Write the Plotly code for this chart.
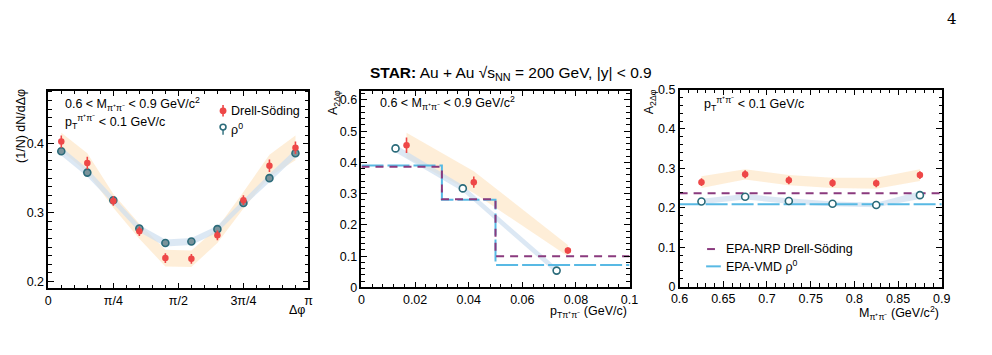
import math
import plotly.graph_objects as go

W, H = 992, 355
PI = math.pi

# ---------------- data ----------------
# Panel 1: (1/N) dN/dDelta-phi vs Delta-phi
dphi = [(i + 0.5) * PI / 10 for i in range(10)]
ds_dphi = [0.403, 0.372, 0.317, 0.273, 0.234, 0.233, 0.267, 0.318, 0.368, 0.394]
ds_dphi_err = [0.009, 0.009, 0.007, 0.007, 0.007, 0.007, 0.007, 0.007, 0.009, 0.009]
ds_dphi_sys = [0.013, 0.014, 0.010, 0.011, 0.012, 0.012, 0.011, 0.012, 0.016, 0.018]
rho_dphi = [0.389, 0.358, 0.318, 0.277, 0.256, 0.258, 0.276, 0.314, 0.350, 0.386]
rho_dphi_err = [0.003, 0.003, 0.003, 0.003, 0.003, 0.003, 0.003, 0.003, 0.003, 0.003]
rho_dphi_sys = [0.006, 0.006, 0.005, 0.005, 0.005, 0.005, 0.005, 0.005, 0.006, 0.006]
dphi_tickvals = [0, PI / 4, PI / 2, 3 * PI / 4, PI]
dphi_ticktext = ["0", "π/4", "π/2", "3π/4", "π"]

# Panel 2: A_2dphi vs pT
pt_ds = [0.0168, 0.0419, 0.0770]
a_pt_ds = [0.455, 0.337, 0.118]
a_pt_ds_err = [0.025, 0.018, 0.010]
a_pt_ds_sys = [0.040, 0.035, 0.018]
pt_rho = [0.0127, 0.0378, 0.0728]
a_pt_rho = [0.445, 0.317, 0.054]
a_pt_rho_err = [0.004, 0.004, 0.004]
a_pt_rho_sys = [0.012, 0.010, 0.010]
pt_edges = [0.0, 0.03, 0.05, 0.1]
epa_nrp_pt = [0.386, 0.282, 0.100]
epa_vmd_pt = [0.390, 0.281, 0.072]

# Panel 3: A_2dphi vs M
mass = [0.625, 0.675, 0.725, 0.775, 0.825, 0.875]
a_m_ds = [0.265, 0.285, 0.270, 0.263, 0.262, 0.283]
a_m_ds_err = [0.010, 0.010, 0.010, 0.010, 0.010, 0.010]
a_m_ds_sys = [0.015, 0.013, 0.013, 0.013, 0.014, 0.015]
a_m_rho = [0.216, 0.228, 0.217, 0.210, 0.207, 0.232]
a_m_rho_err = [0.002, 0.002, 0.002, 0.002, 0.002, 0.002]
a_m_rho_sys = [0.007, 0.007, 0.007, 0.006, 0.006, 0.010]
mass_range = [0.6, 0.9]
epa_nrp_m = 0.237
epa_vmd_m = 0.209

# ---------------- styles ----------------
RED = "#EE4747"
TEAL = "#2B6B7A"
TEALFILL = "#7A939B"
ORANGE_BAND = "rgba(253,226,190,0.6)"
BLUE_BAND = "rgba(205,222,240,0.7)"
PURPLE = "#8A3A7E"
LBLUE = "#58B9E4"
FONT = "Liberation Sans, Arial, sans-serif"
FS = 12.5


def px(x):
    return x / W


def py(y):
    return 1 - y / H


fig = go.Figure()


def band(xs, ys, sys, color, xa, ya):
    up = [y + s for y, s in zip(ys, sys)]
    lo = [y - s for y, s in zip(ys, sys)]
    fig.add_trace(go.Scatter(x=list(xs) + list(xs)[::-1], y=up + lo[::-1],
                             fill="toself", fillcolor=color, mode="lines",
                             line=dict(width=0), hoverinfo="skip",
                             showlegend=False, xaxis=xa, yaxis=ya))


def points(xs, ys, err, xa, ya, kind, filled_rho=True):
    if kind == "ds":
        marker = dict(symbol="circle", size=6.5, color=RED, line=dict(width=0))
        ecol = RED
    else:
        fill = TEALFILL if filled_rho else "white"
        marker = dict(symbol="circle", size=7, color=fill,
                      line=dict(width=1.6, color=TEAL))
        ecol = TEAL
    fig.add_trace(go.Scatter(x=xs, y=ys, mode="markers", marker=marker,
                             error_y=dict(type="data", array=err, color=ecol,
                                          thickness=1.6, width=0),
                             showlegend=False, xaxis=xa, yaxis=ya))


# Panel 1
band(dphi, ds_dphi, ds_dphi_sys, ORANGE_BAND, "x", "y")
band(dphi, rho_dphi, rho_dphi_sys, BLUE_BAND, "x", "y")
points(dphi, rho_dphi, rho_dphi_err, "x", "y", "rho", True)
points(dphi, ds_dphi, ds_dphi_err, "x", "y", "ds")

# Panel 2
band(pt_ds, a_pt_ds, a_pt_ds_sys, ORANGE_BAND, "x2", "y2")
band(pt_rho, a_pt_rho, a_pt_rho_sys, BLUE_BAND, "x2", "y2")
fig.add_trace(go.Scatter(x=pt_edges, y=epa_vmd_pt + [epa_vmd_pt[-1]], mode="lines",
                         line=dict(color=LBLUE, width=2, dash="22px,4px", shape="hv"),
                         showlegend=False, xaxis="x2", yaxis="y2"))
fig.add_trace(go.Scatter(x=pt_edges, y=epa_nrp_pt + [epa_nrp_pt[-1]], mode="lines",
                         line=dict(color=PURPLE, width=2, dash="8px,6px", shape="hv"),
                         showlegend=False, xaxis="x2", yaxis="y2"))
points(pt_rho, a_pt_rho, a_pt_rho_err, "x2", "y2", "rho", False)
points(pt_ds, a_pt_ds, a_pt_ds_err, "x2", "y2", "ds")

# Panel 3
band(mass, a_m_ds, a_m_ds_sys, ORANGE_BAND, "x3", "y3")
band(mass, a_m_rho, a_m_rho_sys, BLUE_BAND, "x3", "y3")
fig.add_trace(go.Scatter(x=mass_range, y=[epa_vmd_m, epa_vmd_m], mode="lines",
                         line=dict(color=LBLUE, width=2, dash="22px,4px"),
                         showlegend=False, xaxis="x3", yaxis="y3"))
fig.add_trace(go.Scatter(x=mass_range, y=[epa_nrp_m, epa_nrp_m], mode="lines",
                         line=dict(color=PURPLE, width=2, dash="8px,6px"),
                         showlegend=False, xaxis="x3", yaxis="y3"))
points(mass, a_m_rho, a_m_rho_err, "x3", "y3", "rho", False)
points(mass, a_m_ds, a_m_ds_err, "x3", "y3", "ds")


def axis(domain, rng, anchor, **kw):
    d = dict(domain=domain, range=rng, anchor=anchor, showgrid=False, zeroline=False,
             showline=True, linecolor="black", linewidth=1.5, mirror="allticks",
             ticks="inside", ticklen=6, tickwidth=1, tickcolor="black",
             tickfont=dict(family=FONT, size=FS, color="black"))
    d.update(kw)
    return d


def minor(dt, t0=0):
    return dict(dtick=dt, tick0=t0, ticks="inside", ticklen=3.5, tickcolor="black",
                tickwidth=1, showgrid=False)


fig.update_layout(
    width=W, height=H, margin=dict(l=0, r=0, t=0, b=0),
    paper_bgcolor="white", plot_bgcolor="white", showlegend=False,
    xaxis=axis([px(40), px(305)], [0, PI], "y", tickmode="array",
               tickvals=dphi_tickvals, ticktext=dphi_ticktext, minor=minor(PI / 20)),
    yaxis=axis([py(293), py(87)], [0.19, 0.477], "x", dtick=0.1, tick0=0,
               minor=minor(0.0125)),
    xaxis2=axis([px(359), px(632)], [0, 0.1], "y2", dtick=0.02, tick0=0,
                minor=minor(0.004)),
    yaxis2=axis([py(292), py(87)], [0, 0.63], "x2", dtick=0.1, tick0=0,
                minor=minor(0.02)),
    xaxis3=axis([px(683), px(950)], [0.6, 0.9], "y3", dtick=0.05, tick0=0.6,
                minor=minor(0.01, 0.6)),
    yaxis3=axis([py(291), py(86)], [0, 0.5], "x3", dtick=0.1, tick0=0,
                minor=minor(0.02)),
)

ann = []


def text(x, y, s, size=FS, xanchor="left", yanchor="middle", angle=0, fam=FONT):
    ann.append(dict(x=px(x), y=py(y), xref="paper", yref="paper", text=s,
                    showarrow=False, xanchor=xanchor, yanchor=yanchor,
                    textangle=angle, font=dict(family=fam, size=size, color="black")))


# titles
text(511, 69, "<b>STAR:</b> Au + Au √s<sub>NN</sub> = 200 GeV, |y| < 0.9", size=15.5,
     xanchor="center")
text(960, 12, "4", size=15, xanchor="center", fam="DejaVu Serif, serif")

# panel 1 texts
text(55, 101, "0.6 < M<sub>π⁺π⁻</sub> < 0.9 GeV/c<sup>2</sup>")
text(55, 120, "p<sub>T</sub><sup>π⁺π⁻</sup> < 0.1 GeV/c")
text(224, 108, "Drell-Söding")
text(224, 127, "ρ<sup>0</sup>")
text(12, 124, "(1/N) dN/dΔφ", xanchor="center", angle=-90)
text(304, 315, "Δφ", xanchor="right")

# panel 2 texts
text(376, 100, "0.6 < M<sub>π⁺π⁻</sub> < 0.9 GeV/c<sup>2</sup>")
text(331, 99, "A<sub>2Δφ</sub>", xanchor="center", angle=-90)
text(631, 318, "p<sub>Tπ⁺π⁻</sub> (GeV/c)", xanchor="right")

# panel 3 texts
text(706, 101, "p<sub>T</sub><sup>π⁺π⁻</sup> < 0.1 GeV/c")
text(653, 99, "A<sub>2Δφ</sub>", xanchor="center", angle=-90)
text(949, 319, "M<sub>π⁺π⁻</sub> (GeV/c<sup>2</sup>)", xanchor="right")
text(728, 252, "EPA-NRP Drell-Söding")
text(728, 270, "EPA-VMD ρ<sup>0</sup>")

fig.update_layout(annotations=ann)

# legend symbols (paper coordinates)
shapes = [
    dict(type="line", xref="paper", yref="paper", x0=px(218), x1=px(218),
         y0=py(102), y1=py(114), line=dict(color=RED, width=1.6)),
    dict(type="circle", xref="paper", yref="paper", x0=px(214.5), x1=px(221.5),
         y0=py(104.5), y1=py(111.5), fillcolor=RED, line=dict(width=0)),
    dict(type="line", xref="paper", yref="paper", x0=px(218), x1=px(218),
         y0=py(122), y1=py(133), line=dict(color=TEAL, width=1.4)),
    dict(type="circle", xref="paper", yref="paper", x0=px(215), x1=px(221),
         y0=py(122), y1=py(128), fillcolor="white", line=dict(color=TEAL, width=1.6)),
    dict(type="line", xref="paper", yref="paper", x0=px(711), x1=px(719),
         y0=py(252), y1=py(252), line=dict(color=PURPLE, width=2)),
    dict(type="line", xref="paper", yref="paper", x0=px(710), x1=px(725),
         y0=py(270), y1=py(270), line=dict(color=LBLUE, width=2)),
]
fig.update_layout(shapes=shapes)

fig.write_html("out.html")
